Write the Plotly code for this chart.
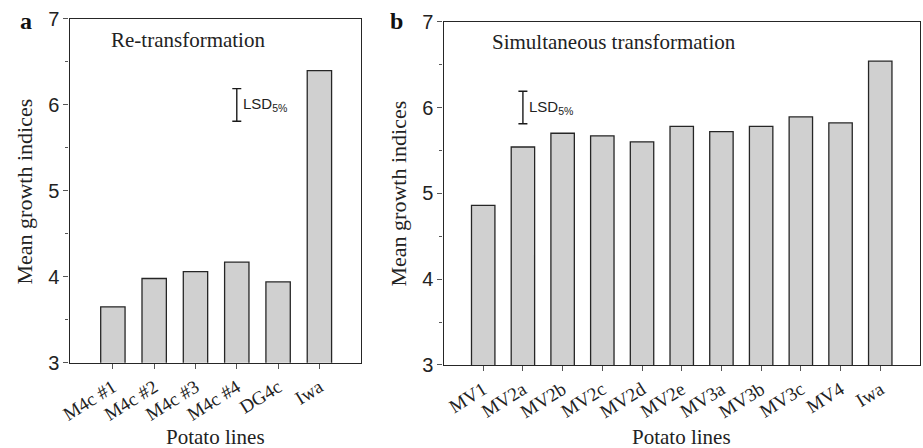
import plotly.graph_objects as go

# ---- data ----
lines_a = ["M4c #1", "M4c #2", "M4c #3", "M4c #4", "DG4c", "Iwa"]
growth_a = [3.65, 3.98, 4.06, 4.17, 3.94, 6.40]

lines_b = ["MV1", "MV2a", "MV2b", "MV2c", "MV2d", "MV2e", "MV3a", "MV3b", "MV3c", "MV4", "Iwa"]
growth_b = [4.86, 5.54, 5.70, 5.67, 5.60, 5.78, 5.72, 5.78, 5.89, 5.82, 6.54]

lsd_center = 6.0
lsd_half = 0.19
lsd_pos_a = "M4c #4"
lsd_pos_b = "MV2a"

y_ticks = [3, 4, 5, 6, 7]
minor_right = [3.5, 4.5, 5.5, 6.5]

SERIF = "Liberation Serif, Times New Roman, serif"
SANS = "Liberation Sans, Arial, sans-serif"
BAR_FILL = "#d0d0d0"
LINE = "#262626"
TICKC = "#555555"
W, H = 923, 448

fig = go.Figure()

bar_style = dict(marker=dict(color=BAR_FILL, line=dict(color=LINE, width=1.3)), showlegend=False, hoverinfo="x+y")
fig.add_trace(go.Bar(x=lines_a, y=growth_a, xaxis="x", yaxis="y", **bar_style))
fig.add_trace(go.Bar(x=lines_b, y=growth_b, xaxis="x2", yaxis="y2", **bar_style))

err = dict(type="data", array=[lsd_half], width=4.5, thickness=1.4, color="#1a1a1a")
fig.add_trace(go.Scatter(x=[lsd_pos_a], y=[lsd_center], mode="markers", marker=dict(opacity=0),
                         error_y=err, xaxis="x", yaxis="y", showlegend=False, hoverinfo="skip"))
fig.add_trace(go.Scatter(x=[lsd_pos_b], y=[lsd_center], mode="markers", marker=dict(opacity=0),
                         error_y=err, xaxis="x2", yaxis="y2", showlegend=False, hoverinfo="skip"))

xcommon = dict(showline=True, linecolor=LINE, linewidth=1.2, mirror=True, ticks="outside",
               ticklen=5, tickcolor=TICKC, tickwidth=1.2, tickangle=-32, automargin=False,
               tickfont=dict(family=SERIF, size=19, color="#222"),
               showgrid=False, zeroline=False)
ycommon = dict(range=[3, 7], tickvals=y_ticks, showline=True, linecolor=LINE, linewidth=1.2, mirror=True,
               ticks="outside", ticklen=5, tickcolor=TICKC, tickwidth=1.2, automargin=False,
               minor=dict(dtick=0.5, ticks="outside", ticklen=3, tickcolor=TICKC, tickwidth=1.2),
               tickfont=dict(family=SANS, size=20, color="#222"), showgrid=False, zeroline=False)

fig.update_layout(
    width=W, height=H,
    margin=dict(l=0, r=0, t=0, b=0, autoexpand=False),
    plot_bgcolor="white", paper_bgcolor="white",
    bargap=0.41,
    xaxis=dict(domain=[0.0753, 0.3908], anchor="y", range=[-1.05, 6.0], **xcommon),
    yaxis=dict(domain=[0.1904, 0.9576], anchor="x", **ycommon),
    xaxis2=dict(domain=[0.4805, 0.9967], anchor="y2", range=[-1.0, 11.0], **xcommon),
    yaxis2=dict(domain=[0.1853, 0.9516], anchor="x2", **ycommon),
    yaxis3=dict(overlaying="y2", anchor="x2", side="right", range=[3, 7], tickvals=minor_right,
                ticks="inside", ticklen=4, tickcolor=TICKC, tickwidth=1.2, showticklabels=False,
                showline=False, showgrid=False, zeroline=False, automargin=False),
)

title_font = dict(family=SERIF, size=21, color="#222")
ann = []
ann.append(dict(text="Re-transformation", xref="x domain", yref="y domain", x=0.136, y=0.939,
                xanchor="left", yanchor="middle", showarrow=False, font=title_font))
ann.append(dict(text="Simultaneous transformation", xref="x2 domain", yref="y2 domain", x=0.0976, y=0.941,
                xanchor="left", yanchor="middle", showarrow=False, font=title_font))
ann.append(dict(text="LSD<sub>5%</sub>", xref="x", yref="y", x=lsd_pos_a, y=lsd_center,
                xanchor="left", yanchor="middle", xshift=4, showarrow=False,
                font=dict(family=SANS, size=15, color="#222")))
ann.append(dict(text="LSD<sub>5%</sub>", xref="x2", yref="y2", x=lsd_pos_b, y=lsd_center,
                xanchor="left", yanchor="middle", xshift=4, showarrow=False,
                font=dict(family=SANS, size=15, color="#222")))
# axis titles
for xr in ["x domain", "x2 domain"]:
    ann.append(dict(text="Potato lines", xref=xr, yref="paper", x=0.5, y=1 - 437 / H,
                    xanchor="center", yanchor="middle", showarrow=False, font=title_font))
for xc, yc in [(23.5, 192), (397.5, 194)]:
    ann.append(dict(text="Mean growth indices", xref="paper", yref="paper", x=xc / W, y=1 - yc / H,
                    xanchor="center", yanchor="middle", textangle=-90, showarrow=False,
                    font=dict(family=SERIF, size=22, color="#222")))
ann.append(dict(text="<b>a</b>", xref="paper", yref="paper", x=26 / W, y=1 - 21 / H,
                xanchor="center", yanchor="middle", showarrow=False,
                font=dict(family=SERIF, size=24, color="#111")))
ann.append(dict(text="<b>b</b>", xref="paper", yref="paper", x=396 / W, y=1 - 21 / H,
                xanchor="center", yanchor="middle", showarrow=False,
                font=dict(family=SERIF, size=24, color="#111")))
fig.update_layout(annotations=ann)

fig.write_html("out.html", config={"displayModeBar": False},
               post_script="document.body.style.margin='0';document.body.style.padding='0';"
                           "document.body.style.overflow='hidden';")
